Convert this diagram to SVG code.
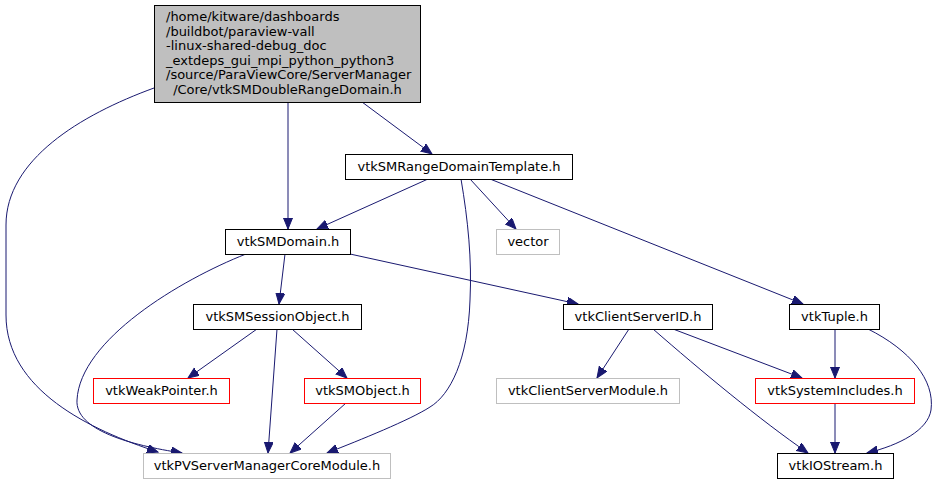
<svg xmlns="http://www.w3.org/2000/svg" width="937" height="484" viewBox="0 0 937 484">
<style>
  text { font-family: "DejaVu Sans", "Liberation Sans", sans-serif; font-size: 13px; fill: #000; }
  .c { text-anchor: middle; }
  .n rect { fill: #fff; stroke: #000; stroke-width: 1; }
  .g rect { fill: #fff; stroke: #bfbfbf; stroke-width: 1; }
  .r rect { fill: #fff; stroke: #ff0000; stroke-width: 1; }
  #edges path { fill: none; stroke: #191970; stroke-width: 1; marker-end: url(#arr); }
</style>
<defs>
  <marker id="arr" markerWidth="12" markerHeight="10" refX="11" refY="4.5" orient="auto" markerUnits="userSpaceOnUse">
    <path d="M0,0 L11,4.5 L0,9 z" fill="#191970" stroke="#191970" stroke-width="1"/>
  </marker>
</defs>
<rect width="937" height="484" fill="#fff"/>
<g id="edges">
  <path d="M154,88 C80,115 6,160 6,225 L6,315 C6,390 90,430 158,452"/>
  <path d="M288,102 L288,229"/>
  <path d="M362,102 L432,154"/>
  <path d="M428,179 L317,229"/>
  <path d="M470,179 L516,229"/>
  <path d="M461,179 C468,220 472,260 470,300 C468,360 450,395 430,407 C410,420 360,440 327,453"/>
  <path d="M490,179 L803,304"/>
  <path d="M285,254 L279,304"/>
  <path d="M246,254 C180,280 80,340 77,400 C75,430 130,445 182,453"/>
  <path d="M350,254 L578,304"/>
  <path d="M257,329 L188,378"/>
  <path d="M277,329 L268,453"/>
  <path d="M292,329 L347,378"/>
  <path d="M346,403 L290,453"/>
  <path d="M629,329 L597,378"/>
  <path d="M653,329 C700,370 760,420 808,453"/>
  <path d="M673,329 L802,378"/>
  <path d="M835,329 L835,378"/>
  <path d="M868,329 C910,350 935,380 931,410 C928,430 900,445 867,453"/>
  <path d="M835,403 L835,453"/>
</g>
<g id="node-main">
  <rect x="154.5" y="5.5" width="266" height="97" fill="#bfbfbf" stroke="#000"/>
  <text x="166" y="21">/home/kitware/dashboards</text>
  <text x="166" y="35.6">/buildbot/paraview-vall</text>
  <text x="166" y="50.2">-linux-shared-debug_doc</text>
  <text x="166" y="64.8">_extdeps_gui_mpi_python_python3</text>
  <text x="166" y="79.4">/source/ParaViewCore/ServerManager</text>
  <text x="287.5" y="94" class="c">/Core/vtkSMDoubleRangeDomain.h</text>
</g>
<g id="node-range" class="n"><rect x="345.5" y="154.5" width="227" height="25"/><text x="459" y="171" class="c">vtkSMRangeDomainTemplate.h</text></g>
<g id="node-domain" class="n"><rect x="225.5" y="229.5" width="125" height="25"/><text x="288" y="246" class="c">vtkSMDomain.h</text></g>
<g id="node-vector" class="g"><rect x="496.5" y="229.5" width="63" height="25"/><text x="528" y="246" class="c">vector</text></g>
<g id="node-session" class="n"><rect x="193.5" y="304.5" width="168" height="25"/><text x="277.5" y="321" class="c">vtkSMSessionObject.h</text></g>
<g id="node-csid" class="n"><rect x="563.5" y="304.5" width="149" height="25"/><text x="638" y="321" class="c">vtkClientServerID.h</text></g>
<g id="node-tuple" class="n"><rect x="789.5" y="304.5" width="90" height="25"/><text x="834.5" y="321" class="c">vtkTuple.h</text></g>
<g id="node-weak" class="r"><rect x="93.5" y="378.5" width="136" height="25"/><text x="161.5" y="395" class="c">vtkWeakPointer.h</text></g>
<g id="node-smobject" class="r"><rect x="304.5" y="378.5" width="116" height="25"/><text x="362.5" y="395" class="c">vtkSMObject.h</text></g>
<g id="node-csmodule" class="g"><rect x="496.5" y="378.5" width="183" height="25"/><text x="588" y="395" class="c">vtkClientServerModule.h</text></g>
<g id="node-sysinc" class="r"><rect x="755.5" y="378.5" width="159" height="25"/><text x="835" y="395" class="c">vtkSystemIncludes.h</text></g>
<g id="node-pvsm" class="g"><rect x="143.5" y="453.5" width="247" height="25"/><text x="267" y="470" class="c">vtkPVServerManagerCoreModule.h</text></g>
<g id="node-iostream" class="n"><rect x="777.5" y="453.5" width="116" height="25"/><text x="835.5" y="470" class="c">vtkIOStream.h</text></g>
</svg>
